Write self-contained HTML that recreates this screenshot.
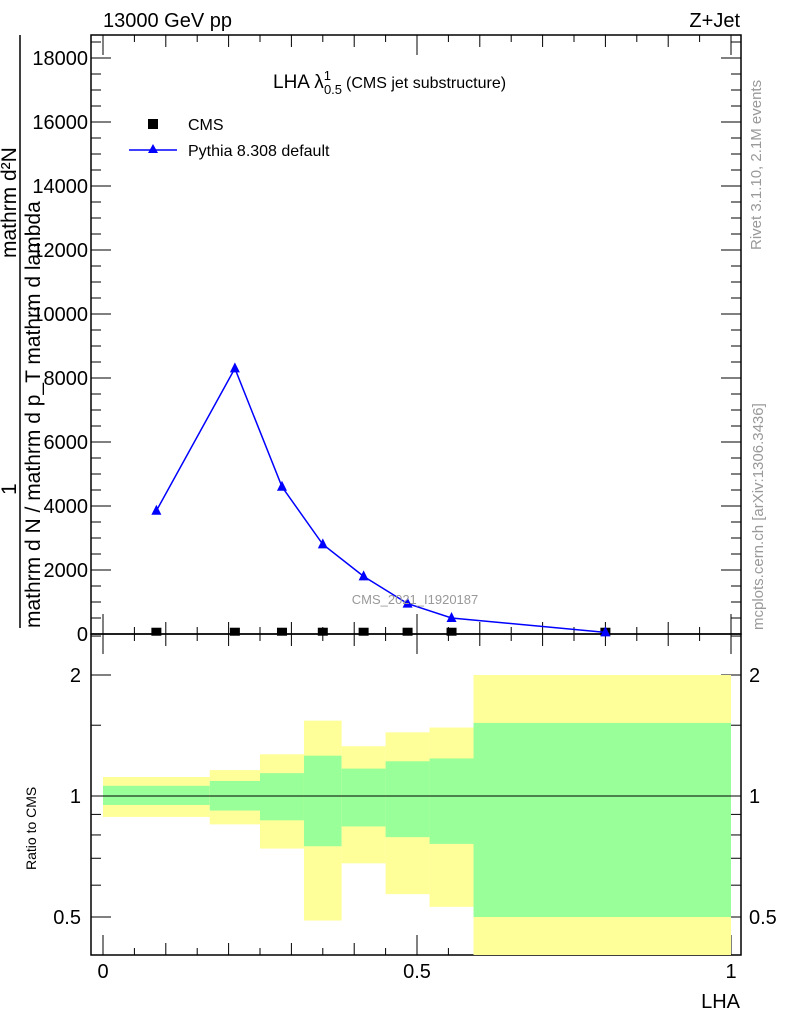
<!DOCTYPE html>
<html><head><meta charset="utf-8"><style>
body{margin:0;background:#fff}
svg{display:block;font-family:"Liberation Sans",sans-serif}
</style></head><body>
<svg id="c" width="786" height="1024" viewBox="0 0 786 1024">
<text x="103" y="27" font-size="20">13000 GeV pp</text>
<text x="740" y="27" font-size="20" text-anchor="end">Z+Jet</text>
<g id="main"></g>
<g id="ratio"></g>
<text x="415" y="604" font-size="13" fill="#999" text-anchor="middle">CMS_2021_I1920187</text>
<text x="273" y="88" font-size="19">LHA λ<tspan font-size="13" dy="-8">1</tspan><tspan font-size="13" dx="-7" dy="14">0.5</tspan><tspan font-size="16" dy="-6" dx="4">(CMS jet substructure)</tspan></text>
<g>
<rect x="148" y="119" width="10" height="10" fill="#000"/>
<text x="188" y="130" font-size="16">CMS</text>
<line x1="129" y1="150" x2="177" y2="150" stroke="#00f" stroke-width="1.5"/>
<polygon points="153,144 158,153 148,153" fill="#00f"/>
<text x="188" y="156" font-size="16">Pythia 8.308 default</text>
</g>
<line x1="20" y1="35" x2="20" y2="628" stroke="#000" stroke-width="1.5"/>
<text transform="translate(40,628) rotate(-90)" font-size="21">mathrm d N / mathrm d p_T mathrm d lambda</text>
<text transform="translate(16,258) rotate(-90)" font-size="21">mathrm d²N</text>
<text transform="translate(16,495) rotate(-90)" font-size="21">1</text>
<text transform="translate(761,250) rotate(-90)" font-size="15" fill="#999">Rivet 3.1.10,  2.1M events</text>
<text transform="translate(763,630) rotate(-90)" font-size="15" fill="#999">mcplots.cern.ch [arXiv:1306.3436]</text>
<text transform="translate(36,870) rotate(-90)" font-size="14">Ratio to CMS</text>
<text x="740" y="1008" font-size="20" text-anchor="end">LHA</text>
</svg>
<script>
const xs=[0.085,0.21,0.285,0.35,0.415,0.485,0.555,0.8];
const pythia=[3850,8300,4600,2800,1800,950,500,50];
const cms=[40,40,40,40,40,40,40,40];
const yTicks=[0,2000,4000,6000,8000,10000,12000,14000,16000,18000];
const binEdges=[0,0.17,0.25,0.32,0.38,0.45,0.52,0.59,1.0];
const yellowHi=[1.115,1.16,1.27,1.54,1.33,1.44,1.48,2.0];
const yellowLo=[0.887,0.85,0.74,0.49,0.68,0.57,0.53,0.38];
const greenHi=[1.06,1.09,1.14,1.26,1.17,1.22,1.24,1.52];
const greenLo=[0.95,0.92,0.87,0.75,0.84,0.79,0.76,0.50];
const ratioTicks=[0.5,1,2];
const xTicks=[0,0.5,1];

const NS='http://www.w3.org/2000/svg';
const L=91,R=741,T=35,MB=634,RB=955;
const X=v=>103+v*628;
const Y=v=>634-v*0.032;
const RY=v=>796-Math.log2(v)*121;
function mk(p,tag,a){const e=document.createElementNS(NS,tag);for(const k in a)e.setAttribute(k,a[k]);p.appendChild(e);return e;}
const main=document.getElementById('main'),ratio=document.getElementById('ratio');

binEdges.slice(0,-1).forEach((e,i)=>{
 const x1=X(e),x2=X(binEdges[i+1]);
 const top=Math.max(RY(yellowHi[i]),MB),bot=Math.min(RY(yellowLo[i]),RB);
 const y=mk(ratio,'rect',{x:x1,y:top,width:x2-x1,height:bot-top,fill:'#ffff99'});
 
 
 const g=mk(ratio,'rect',{x:x1,y:RY(greenHi[i]),width:x2-x1,height:RY(greenLo[i])-RY(greenHi[i]),fill:'#99ff99'});
 
 
});
const ol=mk(ratio,'line',{x1:X(0),x2:X(1),y1:RY(1),y2:RY(1),stroke:'#000','stroke-width':1});



[[T,MB],[MB,RB]].forEach(([a,b])=>{const f=mk(main,'rect',{x:L,y:a,width:R-L,height:b-a,fill:'none',stroke:'#000','stroke-width':1.5});

});

yTicks.forEach(v=>{
 const y=Y(v);
 mk(main,'line',{x1:L,x2:L+20,y1:y,y2:y,stroke:'#000'});
 mk(main,'line',{x1:R-20,x2:R,y1:y,y2:y,stroke:'#000'});
 const t=mk(main,'text',{x:L-3,y:y+7,'font-size':20,'text-anchor':'end'});t.textContent=v;
 
 
 for(let k=1;k<4;k++){const ym=y-k*16;if(ym>T){mk(main,'line',{x1:L,x2:L+10,y1:ym,y2:ym,stroke:'#000'});mk(main,'line',{x1:R-10,x2:R,y1:ym,y2:ym,stroke:'#000'});}}
});
for(let i=0;i<=20;i++){const v=i*0.05,x=X(v),len=i%10==0?20:(i%2==0?12:7);
 [MB,RB].forEach(b=>mk(main,'line',{x1:x,x2:x,y1:b,y2:b-len,stroke:'#000'}));
 [T,MB].forEach(t=>mk(main,'line',{x1:x,x2:x,y1:t,y2:t+len,stroke:'#000'}));}
xTicks.forEach(v=>{const t=mk(main,'text',{x:X(v),y:978,'font-size':20,'text-anchor':'middle'});t.textContent=v;
 
 });
ratioTicks.forEach(v=>{const y=RY(v);
 mk(main,'line',{x1:L,x2:L+20,y1:y,y2:y,stroke:'#000'});mk(main,'line',{x1:R-20,x2:R,y1:y,y2:y,stroke:'#000'});
 const t=mk(main,'text',{x:L-10,y:y+7,'font-size':20,'text-anchor':'end'});t.textContent=v;
 
 
 const t2=mk(main,'text',{x:R+8,y:y+7,'font-size':20});t2.textContent=v;
 
 });
[0.6,0.7,0.8,0.9,1.5,2.5].forEach(v=>{const y=RY(v);if(y>MB&&y<RB){mk(main,'line',{x1:L,x2:L+10,y1:y,y2:y,stroke:'#000'});mk(main,'line',{x1:R-10,x2:R,y1:y,y2:y,stroke:'#000'});}});

xs.forEach((v,i)=>{const s=mk(main,'rect',{x:X(v)-5,y:Y(cms[i])-5,width:10,height:8,fill:'#000'});
 
 });
const pl=mk(main,'polyline',{points:xs.map((v,i)=>X(v)+','+Y(pythia[i])).join(' '),fill:'none',stroke:'#00f','stroke-width':1.5});


xs.forEach((v,i)=>{const x=X(v),y=Y(pythia[i]);const p=mk(main,'polygon',{points:`${x},${y-6} ${x+5},${y+4} ${x-5},${y+4}`,fill:'#00f'});
 
 });
</script>
</body></html>
